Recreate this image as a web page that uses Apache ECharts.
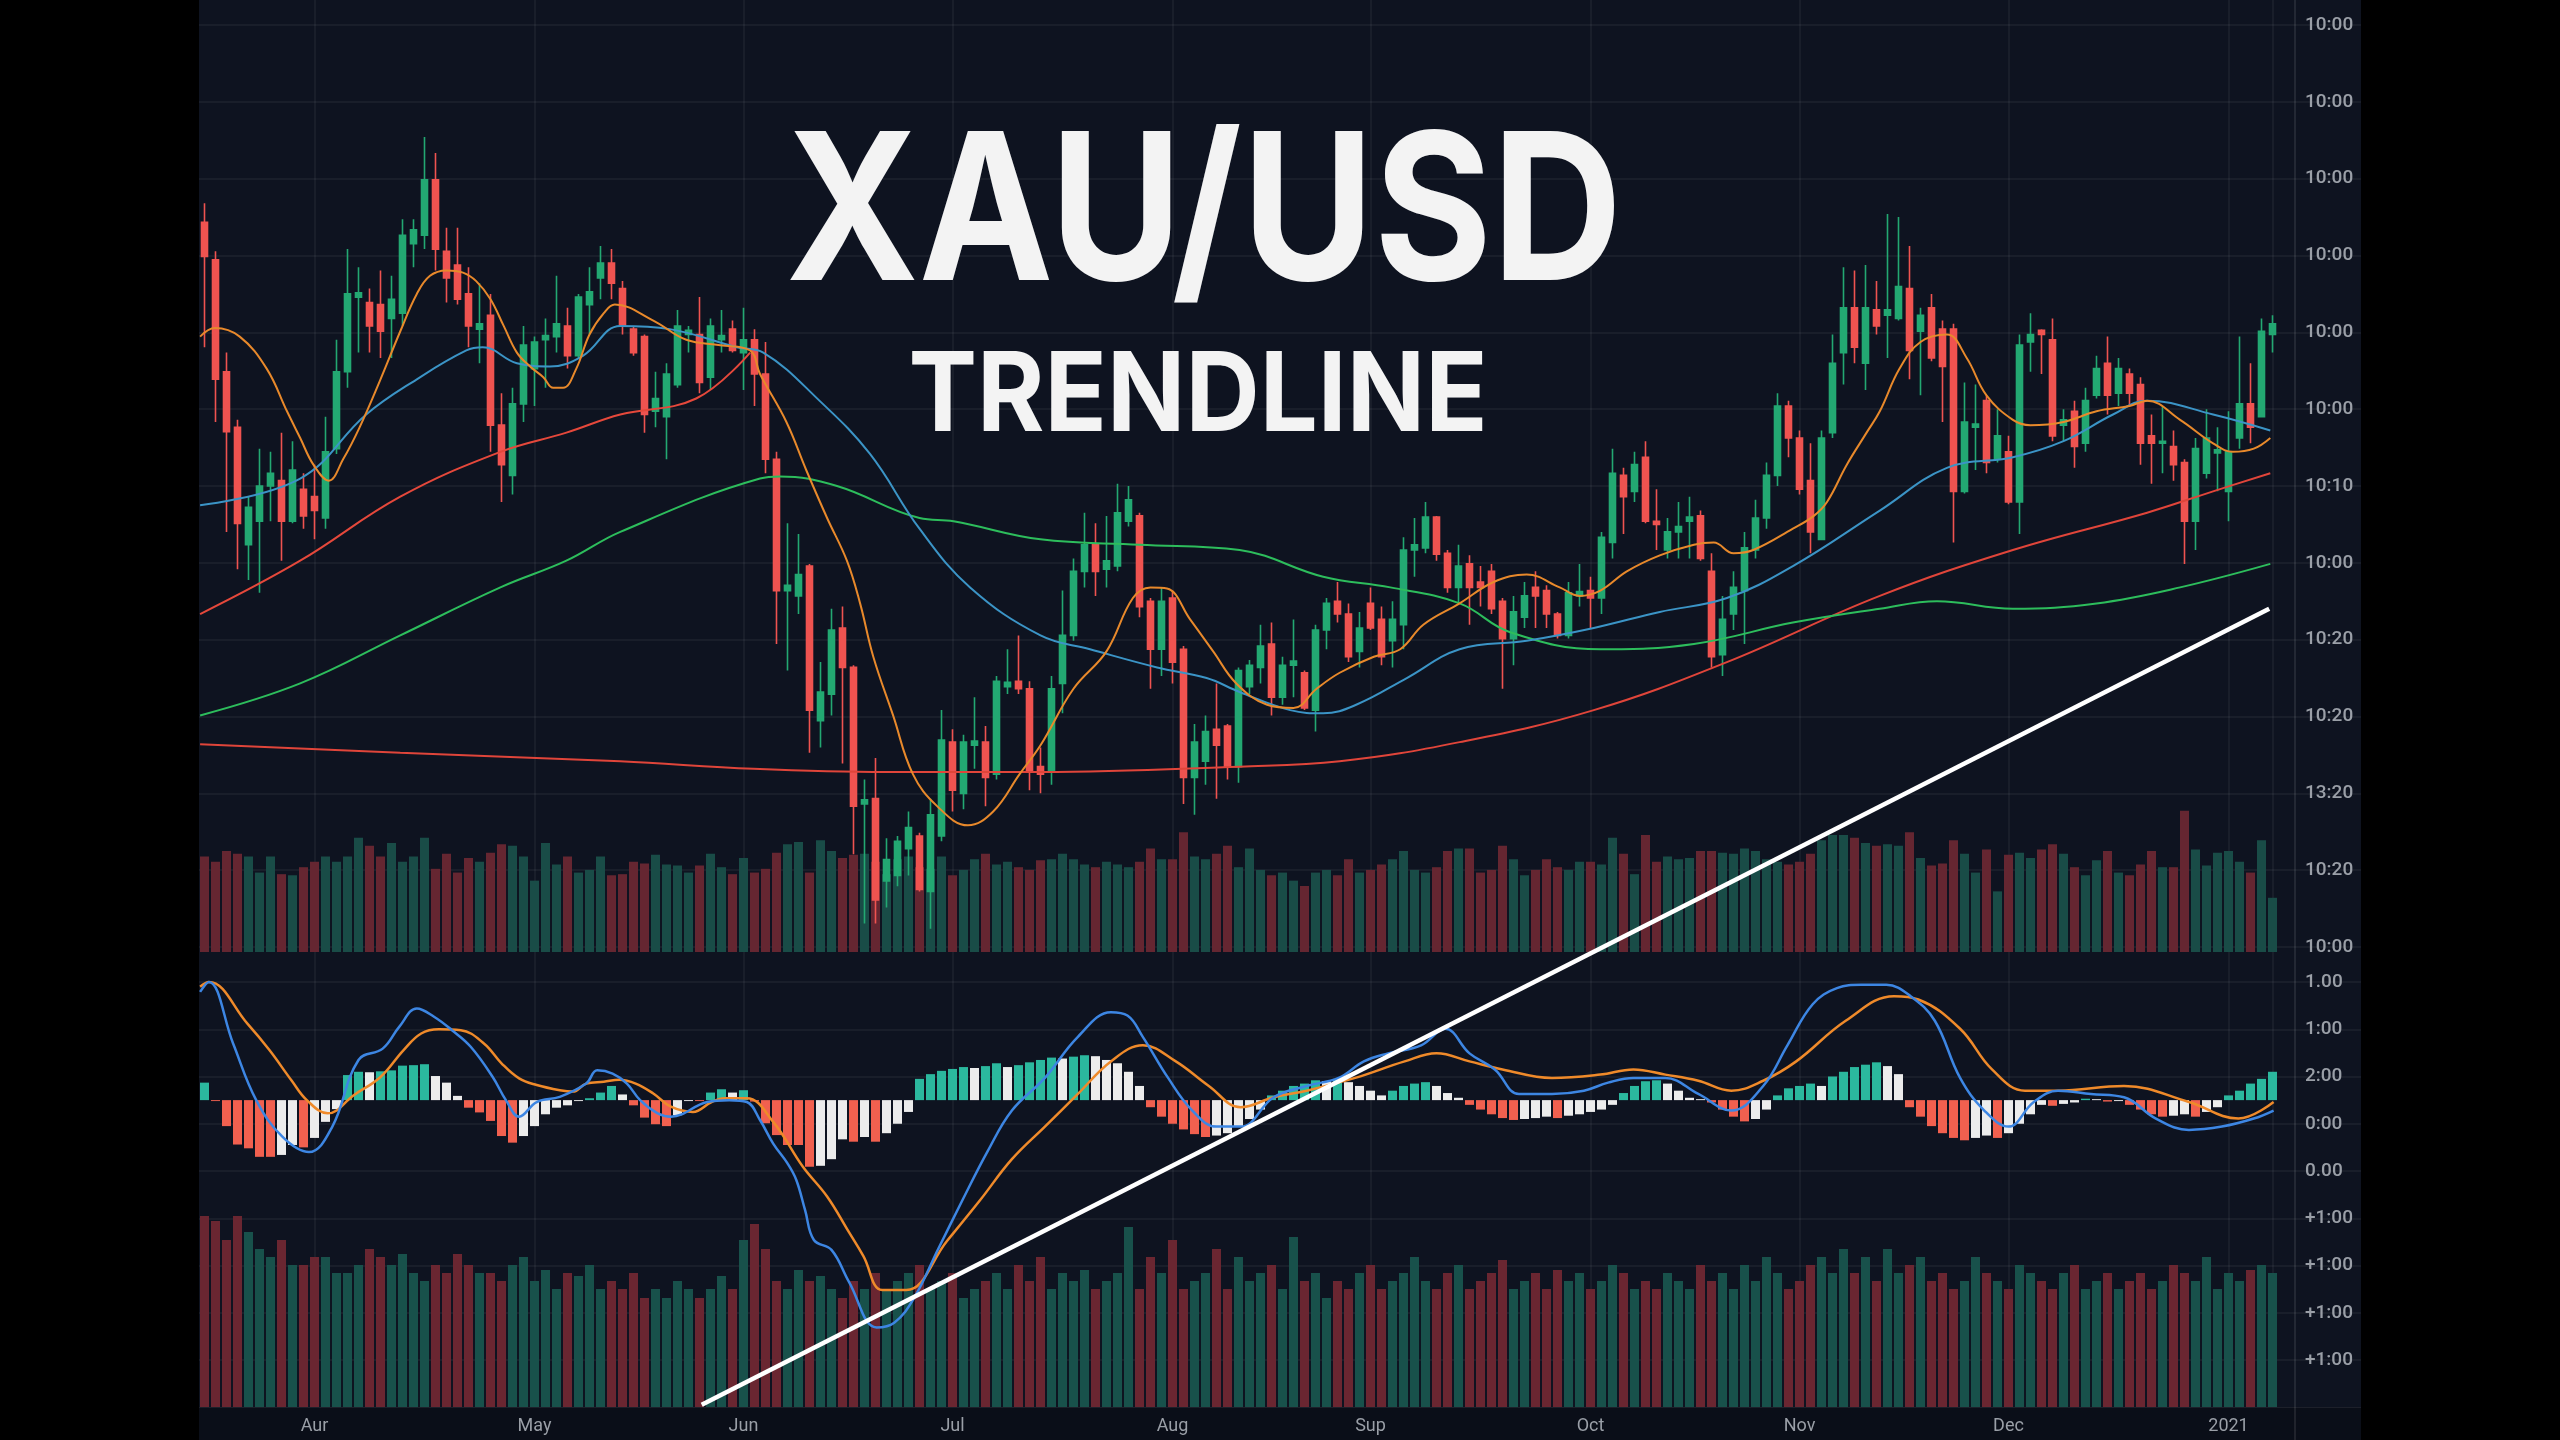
<!DOCTYPE html>
<html><head><meta charset="utf-8">
<script src="https://cdn.jsdelivr.net/npm/echarts@6/dist/echarts.min.js"></script>
<style>html,body{margin:0;padding:0;background:#000;}#c{width:2560px;height:1440px;}</style>
</head><body><div id="c"></div>
<script>
// ---------- tick labels ----------
const priceLabels = ['10:00','10:00','10:00','10:00','10:00','10:00','10:10','10:00','10:20','10:20','13:20','10:20','10:00'];
const lowerLabels = ['1.00','1:00','2:00','0:00','0.00','+1:00','+1:00','+1:00','+1:00'];
const monthLabels = ['Aur','May','Jun','Jul','Aug','Sup','Oct','Nov','Dec','2021'];
const monthIdx = [10,30,49,68,88,106,126,145,164,184];

// ---------- candles ----------
const open = [2119,2084,1979,1927,1817,1839,1872,1877,1839,1869,1862,1842,1907,1979,2049,2044,2042,2029,2034,2099,2107,2159,2092,2079,2052,2019,2032,1929,1882,1949,1982,2009,2012,2022,1994,2042,2067,2081,2057,
2019,2012,1942,1937,1967,2014,2014,1974,2009,2019,1997,2009,1977,1897,1774,1769,1797,1652,1677,1739,1702,1574,1579,1502,1507,1532,1544,1492,1544,1632,1584,1629,1632,1602,1684,1689,1682,1609,
1604,1687,1732,1792,1817,1794,1797,1839,1844,1764,1719,1767,1719,1599,1614,1644,1647,1609,1684,1702,1724,1674,1704,1697,1662,1737,1764,1752,1717,1762,1747,1727,1742,1812,1814,1843,1809,1777,
1799,1782,1792,1764,1729,1749,1777,1774,1752,1732,1769,1774,1767,1819,1882,1867,1899,1839,1812,1829,1839,1844,1792,1714,1752,1774,1812,1842,1882,1947,1917,1877,1822,1922,1997,2039,1987,2037,
2032,2029,2057,2017,2039,2019,2019,1867,1927,1952,1897,1904,1857,2007,2018,2009,1929,1942,1912,1957,1987,1959,1977,1967,1919,1912,1909,1894,1839,1884,1903,1867,1917,1949,1937,2014];
const close = [2087,1972,1923,1837,1852,1872,1884,1839,1887,1844,1849,1904,1979,2052,2053,2022,2017,2047,2107,2112,2159,2094,2067,2047,2022,2024,1929,1892,1949,2004,2007,2013,2024,1994,2049,2054,2081,2062,2022,
1997,1939,1954,1977,2022,2018,1969,2022,2013,1999,2009,1977,1897,1774,1779,1789,1662,1679,1737,1702,1572,1578,1484,1522,1539,1552,1494,1564,1634,1587,1632,1633,1599,1689,1688,1682,1604,1602,
1682,1732,1792,1817,1792,1802,1847,1859,1759,1719,1764,1707,1599,1632,1642,1629,1609,1699,1704,1722,1674,1704,1708,1664,1737,1762,1752,1712,1739,1739,1712,1747,1812,1817,1843,1808,1777,1797,
1777,1777,1757,1729,1754,1769,1769,1752,1732,1772,1773,1767,1824,1884,1862,1892,1839,1836,1829,1834,1843,1804,1712,1747,1777,1814,1842,1882,1947,1917,1869,1829,1917,1987,2039,2002,2039,2022,
2037,2059,1999,2032,1992,1984,1867,1932,1930,1894,1919,1857,2004,2014,2014,1919,1934,1909,1952,1982,1957,1982,1959,1912,1912,1914,1892,1839,1907,1917,1906,1904,1949,1927,2017,2024];
const low = [2002,1932,1829,1794,1784,1772,1839,1802,1837,1832,1822,1832,1902,1964,1997,1997,1992,1992,2022,2077,2094,2074,2044,2042,2002,1987,1904,1857,1864,1932,1947,1964,1997,1982,1992,2014,2047,2047,2014,
1994,1922,1927,1897,1964,1997,1959,1962,1997,1997,1962,1947,1884,1724,1699,1752,1622,1627,1657,1612,1527,1462,1462,1477,1497,1507,1492,1457,1539,1567,1569,1607,1572,1597,1677,1677,1587,1584,
1592,1659,1727,1777,1769,1777,1792,1834,1749,1682,1694,1687,1574,1564,1592,1579,1597,1594,1677,1687,1657,1667,1674,1662,1642,1719,1744,1707,1702,1737,1704,1702,1719,1787,1809,1802,1772,1762,
1742,1759,1752,1682,1704,1739,1739,1739,1729,1729,1759,1739,1752,1804,1827,1857,1837,1812,1804,1804,1804,1802,1702,1694,1737,1724,1804,1832,1872,1899,1864,1809,1822,1917,1967,1987,1962,2014,
1992,2027,1972,1957,1989,1932,1819,1865,1887,1884,1894,1855,1827,1979,1977,1914,1914,1889,1904,1954,1939,1947,1947,1892,1874,1884,1877,1799,1812,1879,1867,1839,1907,1912,1937,1997];
const high = [2137,2092,1997,1934,1862,1907,1904,1922,1914,1884,1892,1937,2009,2094,2077,2057,2074,2069,2122,2122,2199,2184,2114,2114,2077,2062,2052,1959,1964,2022,2012,2029,2069,2039,2052,2077,2097,2094,2064,
2022,2014,1979,1987,2037,2022,2049,2029,2037,2027,2039,2019,2007,1904,1837,1827,1799,1707,1757,1759,1704,1597,1617,1542,1544,1567,1547,1579,1662,1644,1639,1674,1647,1694,1719,1732,1689,1627,
1694,1774,1804,1847,1837,1844,1874,1872,1847,1767,1777,1774,1722,1649,1657,1687,1649,1702,1709,1742,1744,1712,1747,1699,1742,1767,1782,1762,1754,1777,1759,1764,1824,1842,1857,1844,1812,1817,
1807,1797,1799,1767,1769,1782,1792,1779,1754,1782,1799,1787,1829,1907,1889,1904,1914,1869,1842,1857,1862,1849,1809,1769,1792,1829,1859,1894,1959,1952,1924,1912,1924,2014,2077,2074,2079,2064,
2127,2124,2097,2039,2052,2027,2024,1969,1967,1957,1944,1919,2014,2034,2019,2029,1944,1952,1964,1994,2012,1992,1982,1974,1939,1947,1924,1897,1917,1944,1927,1942,2012,1987,2029,2032];

// ---------- volume (main panel) ----------
const vol = [178,168,188,183,178,148,178,145,143,158,168,178,168,178,213,198,178,203,168,178,213,155,183,148,175,168,185,201,198,178,133,203,163,178,148,153,178,143,145,
168,165,181,163,161,148,161,183,158,145,175,148,155,185,201,205,148,208,188,175,181,183,168,145,173,178,158,155,178,143,153,173,183,163,168,158,153,171,
173,183,173,163,158,168,163,158,168,193,173,173,223,178,173,183,198,158,193,153,143,148,133,123,148,153,143,173,148,153,163,173,188,153,148,158,188,193,
193,148,153,198,173,143,153,173,158,153,168,168,163,213,183,145,218,168,178,173,175,188,188,185,183,193,188,173,168,163,168,183,208,218,218,213,203,198,
201,198,223,175,161,165,208,183,148,191,113,181,185,175,191,201,183,158,143,171,188,148,143,163,188,158,158,263,191,161,185,188,168,148,208,101];

// ---------- volume (bottom panel) ----------
const vol2 = [191,186,167,191,175,158,150,167,142,
142,150,150,134,134,142,158,150,142,153,134,126,142,134,153,142,134,
134,126,142,150,126,137,118,134,131,142,118,126,118,134,109,
118,109,126,118,109,118,131,118,167,183,158,126,118,137,126,
131,118,109,126,118,134,118,126,134,142,118,126,134,109,118,
126,134,118,142,126,150,118,134,126,137,118,126,134,180,118,
150,134,167,118,126,134,158,118,150,126,134,142,118,170,126,
134,109,126,118,134,142,118,126,134,150,126,118,134,142,118,
126,134,147,118,126,134,118,137,126,134,118,126,142,134,118,
126,118,134,126,118,142,126,134,118,142,126,150,134,118,126,
142,150,134,158,134,150,126,158,134,142,150,126,134,118,126,
150,134,126,118,142,134,126,118,134,142,118,126,134,118,126,
134,118,126,142,134,126,150,118,134,126,137,142,134];

// ---------- MACD histogram ----------
const hist = [0.37,-0.02,-0.55,-0.94,-1.02,-1.2,-1.2,-1.16,-0.95,-1.0,-0.8,-0.46,-0.19,0.53,0.6,0.59,0.61,0.63,0.73,0.74,0.76,0.51,0.37,0.09,-0.16,-0.26,-0.44,-0.76,-0.9,-0.76,-0.55,-0.3,-0.16,-0.11,-0.02,0.04,0.16,0.3,0.12,-0.11,-0.37,-0.51,-0.55,-0.32,-0.02,-0.02,0.16,0.23,0.16,0.21,-0.03,-0.49,-0.74,-0.95,-0.95,-1.41,-1.39,-1.25,-0.83,-0.88,-0.78,-0.88,-0.7,-0.5,-0.25,
0.45,0.55,0.62,0.66,0.7,0.68,0.72,0.78,0.7,0.74,0.8,0.85,0.9,0.88,0.92,0.95,0.93,0.85,0.78,0.6,0.3,
-0.15,-0.35,-0.5,-0.62,-0.72,-0.78,-0.75,-0.7,-0.55,-0.4,-0.2,
0.1,0.2,0.3,0.35,0.42,0.4,0.45,0.38,0.3,0.2,0.1,0.2,0.3,0.35,0.38,0.3,0.15,0.05,
-0.1,-0.2,-0.3,-0.38,-0.42,-0.4,-0.38,-0.35,-0.38,-0.33,-0.3,-0.25,-0.2,-0.1,
0.15,0.3,0.4,0.42,0.35,0.2,0.05,0.02,-0.05,-0.2,-0.35,-0.45,-0.4,-0.2,
0.1,0.25,0.3,0.35,0.3,0.5,0.6,0.7,0.75,0.8,0.72,0.55,
-0.15,-0.35,-0.55,-0.7,-0.8,-0.85,-0.8,-0.75,-0.8,-0.7,-0.5,-0.3,
-0.1,-0.12,-0.08,-0.05,0.03,0.02,-0.03,-0.02,
-0.1,-0.2,-0.3,-0.35,-0.33,-0.3,-0.35,-0.25,-0.15,
0.1,0.2,0.35,0.45,0.6];

// ---------- MACD / signal lines [bar position, value] ----------
const macdLine = [[-0.4,2.29],[0.4,2.5],[2.6,1.2],[4.7,0.0],[7.1,-0.78],[9.5,-1.1],[11.6,-0.57],[14,0.85],[16.2,1.09],[17.7,1.55],[19.3,1.94],[20.9,1.76],[22.5,1.48],[24.2,1.13],[26.2,0.49],[27.4,0.0],[28.6,-0.35],[30.2,-0.04],[32.3,0.07],[34.7,0.35],[35.7,0.63],[37.1,0.56],[38.4,0.35],[39.6,0.0],[41.2,-0.28],[42.4,-0.35],[45.7,-0.04],[47.7,0.0],[49.3,-0.04],[50.5,-0.42],[51.7,-0.92],[53,-1.34],[53.8,-1.69],[54.6,-2.33],[55.4,-2.96],[57,-3.17],[58.6,-3.85],[61.1,-4.81],[62.7,-4.71],[64.5,-4.19],[66.7,-3.15],[68.9,-2.12],[71.2,-1.08],[73.4,-0.22],[76.4,0.47],[79.4,1.34],[82.4,1.86],[83.9,1.79],[85.3,1.34],[87.6,0.47],[89.8,-0.22],[92,-0.56],[94.2,-0.56],[97.2,0.06],[100.2,0.3],[103.1,0.47],[105.4,0.82],[107.6,0.99],[110.6,1.16],[112.8,1.51],[115,0.99],[117.3,0.65],[119.5,0.13],[122.5,0.13],[125.4,0.2],[127.6,0.37],[129.9,0.47],[132.8,0.47],[135.8,0.13],[138.8,-0.22],[141.7,0.3],[143.9,1.16],[146.2,2.03],[148.4,2.37],[150.6,2.44],[152.9,2.44],[155.1,2.2],[157.3,1.68],[159.6,0.47],[161.8,-0.22],[164,-0.56],[166.3,-0.04],[168.5,0.2],[171.5,0.13],[174.5,0.06],[177.4,-0.39],[180.4,-0.63],[183.4,-0.56],[186.3,-0.39],[188.1,-0.22]];
const signalLine = [[-0.4,2.4],[0.4,2.5],[3.9,1.62],[5.9,1.06],[7.9,0.42],[9.3,0.0],[11.2,-0.28],[13.6,0.11],[16,0.49],[18.1,1.06],[19.7,1.41],[21.3,1.5],[23.3,1.48],[25.4,1.2],[27,0.78],[28.6,0.46],[30.2,0.32],[32.3,0.21],[33.5,0.18],[34.7,0.35],[36.3,0.39],[37.7,0.43],[39.2,0.35],[40.8,0.14],[42.4,-0.14],[44.4,-0.25],[46.1,-0.04],[47.3,0.04],[49.3,0.04],[51.7,-0.46],[54.4,-1.41],[56.6,-2.04],[58.6,-2.8],[59.9,-3.3],[61.6,-4.02],[63.8,-4.02],[67.5,-2.98],[70.5,-2.12],[73.4,-1.25],[76.4,-0.56],[79.4,0.13],[82.4,0.82],[85.3,1.16],[88.3,0.82],[91.3,0.3],[94.2,-0.15],[97.2,0.06],[100.2,0.2],[104.6,0.47],[109.1,0.82],[112,0.99],[115,0.82],[118,0.65],[122.5,0.47],[126.9,0.54],[129.9,0.65],[132.8,0.54],[135.8,0.41],[138.8,0.2],[141.7,0.41],[144.7,0.82],[149.2,1.68],[153.6,2.2],[155.8,2.13],[159.6,1.51],[162.5,0.65],[165.5,0.2],[168.5,0.2],[174.5,0.3],[180.4,-0.04],[184.9,-0.39],[188.1,-0.04]];

// ---------- moving averages [bar position, price] ----------
const maOrange = [[-0.4,2012],[0.95,2020],[3.2,2012],[5.65,1982],[7.5,1942],[8.7,1917],[9.9,1892],[11.3,1877],[12.6,1897],[14.1,1927],[16,1972],[17.8,2017],[19.3,2052],[20.5,2069],[22,2074],[23.5,2072],[24.7,2064],[26,2047],[27.2,2022],[28.4,1997],[29.6,1984],[30.8,1974],[31.7,1964],[32.6,1964],[33.8,1982],[35,2014],[36.3,2034],[37.3,2042],[40.8,2027],[43.8,2009],[46.9,2004],[49.6,1999],[50.5,1977],[52.9,1932],[54.7,1887],[56.6,1842],[58.4,1802],[59.6,1762],[60.8,1712],[62.6,1657],[64.4,1602],[66.6,1572],[69.4,1554],[71.7,1567],[74.1,1602],[76,1629],[79,1682],[82,1717],[84.4,1767],[86,1777],[87.5,1776],[89.6,1747],[91.7,1717],[93.8,1687],[96.6,1667],[99,1664],[101.1,1682],[103.2,1697],[106.3,1712],[108.7,1719],[110.8,1742],[114.1,1762],[117.2,1782],[120.2,1789],[123.2,1777],[125,1769],[126.9,1774],[129.3,1792],[132.3,1807],[135.4,1817],[137.2,1819],[139,1809],[140.8,1812],[144.4,1832],[146.3,1844],[147.5,1857],[149.3,1892],[151.1,1922],[152.3,1942],[154.1,1982],[156,2007],[158.4,2014],[160.2,1992],[162,1957],[164.4,1934],[166,1929],[169,1932],[172,1942],[175,1947],[176.6,1952],[179.6,1934],[182.6,1912],[184.4,1904],[186.3,1907],[187.8,1917]];
const maBlue = [[-0.4,1854],[8.7,1879],[14.7,1939],[19.3,1972],[23.8,1999],[25.3,2002],[28.4,1987],[31.4,1984],[34.4,1994],[37.8,2022],[42.3,2019],[48.4,2002],[50.8,1997],[55.9,1952],[60.5,1902],[65,1832],[69.6,1777],[76,1732],[80.5,1719],[86.6,1702],[91.1,1692],[94.1,1679],[98.7,1662],[101.7,1659],[104.7,1667],[109.3,1692],[114.1,1719],[120.2,1727],[126.3,1739],[132.3,1754],[138.4,1767],[144.4,1797],[152.3,1849],[158.4,1889],[164.4,1899],[169,1914],[173.5,1939],[176.6,1952],[182.6,1939],[187.8,1924]];
const maRed = [[-0.4,1752],[8.7,1802],[17.8,1862],[26.9,1904],[32.9,1922],[37.8,1939],[44.7,1954],[49.6,1997]];
const maGreen = [[-0.4,1657],[8.7,1687],[17.8,1732],[26.9,1777],[32.9,1802],[37.8,1829],[50.5,1879],[52.3,1881],[57.5,1872],[65,1842],[68.1,1839],[76,1822],[85,1817],[94.1,1812],[101.7,1787],[107.8,1777],[114.1,1762],[118.7,1735],[126.9,1719],[135.4,1724],[144.4,1744],[152.3,1757],[157.5,1764],[164.4,1757],[172,1762],[179.6,1777],[187.8,1799]];
const maRedLong = [[-0.4,1630],[17.8,1622],[37.8,1614],[49.9,1607],[62,1604],[76,1604],[94.1,1609],[103.2,1614],[114.1,1632],[126.3,1662],[138.4,1707],[152.3,1769],[164.4,1812],[176.6,1847],[182.6,1867],[187.8,1884]];
const trendLine = [[45.2,1011],[187.7,1757]];

// ---------- build ----------
const N = open.length;
const cats = open.map((_, i) => i);
const UP = '#23a872', DN = '#ef5350';
const VG = '#194c47', VR = '#652631';
const H_T = '#2bb89e', H_R = '#f1604f', H_W = '#ececec';
const candleData = open.map((o, i) => [o, close[i], low[i], high[i]]);
const isUp = i => close[i] >= open[i];
const volData = vol.map((v, i) => ({ value: v, itemStyle: { color: isUp(i) ? VG : VR } }));
const vol2Data = vol2.map((v, i) => ({ value: v, itemStyle: { color: isUp(i) ? '#18514b' : '#6a2631' } }));
const histData = hist.map((h, i) => {
  const p = i > 0 ? hist[i - 1] : 0;
  let c;
  if (h >= 0) c = h >= p ? H_T : H_W; else c = h <= p ? H_R : H_W;
  return { value: h, itemStyle: { color: c } };
});

const L = 199, W = 2079, WFULL = 2162;
const gridColor = 'rgba(255,255,255,0.065)';
const labelStyle = { color: '#9a9fa7', fontSize: 19, fontWeight: 500, fontFamily: 'Roboto, sans-serif' };
const hiddenVal = (g, extra) => Object.assign({ type: 'value', gridIndex: g, show: false, min: 0, max: 1 }, extra || {});

const chart = echarts.init(document.getElementById('c'), null, { renderer: 'canvas' });
chart.setOption({
  animation: false,
  backgroundColor: '#000',
  grid: [
    { left: L, top: 0, width: WFULL, height: 1440, show: true, backgroundColor: '#0e1320', borderWidth: 0 }, // 0 bg
    { left: L - 5.5, top: 0, width: W, height: 1407 },                                                       // 1 vertical lines
    { left: L, top: 25, width: WFULL, height: 922 },                                                         // 2 price labels
    { left: L, top: 982, width: WFULL, height: 378 },                                                        // 3 lower labels
    { left: L, top: 25, width: W, height: 922 },                                                             // 4 price
    { left: L, top: 791, width: W, height: 161 },                                                            // 5 volume
    { left: L, top: 982, width: W, height: 378 },                                                            // 6 macd
    { left: L, top: 1207, width: W, height: 200 },                                                           // 7 bottom volume
    { left: L, top: 1407, width: WFULL, height: 33, show: true, backgroundColor: '#0a0e18', borderWidth: 0 }  // 8 bottom band
  ],
  xAxis: [
    hiddenVal(0),
    { type: 'category', gridIndex: 1, data: cats, axisLine: { show: false }, axisTick: { show: false }, axisLabel: { show: false },
      splitLine: { show: true, interval: (j) => monthIdx.indexOf(j - 1) >= 0, lineStyle: { color: gridColor, width: 1.5 } } },
    hiddenVal(2),
    hiddenVal(3),
    { type: 'category', gridIndex: 4, data: cats, show: false },
    { type: 'value', gridIndex: 4, position: 'top', min: -0.5, max: N - 0.5, show: false },
    { type: 'category', gridIndex: 5, data: cats, show: false },
    { type: 'category', gridIndex: 6, data: cats, show: false },
    { type: 'value', gridIndex: 6, position: 'top', min: -0.5, max: N - 0.5, show: false },
    { type: 'category', gridIndex: 7, data: cats, axisLine: { show: false }, axisTick: { show: false }, splitLine: { show: false },
      axisLabel: { interval: (i) => monthIdx.indexOf(i) >= 0, formatter: (v, i) => { const k = monthIdx.indexOf(i); return k >= 0 ? monthLabels[k] : ''; },
        color: '#9a9fa7', fontSize: 18, margin: 10, fontFamily: '"Liberation Sans Narrow", Roboto, sans-serif' } },
    hiddenVal(8)
  ],
  yAxis: [
    hiddenVal(0),
    hiddenVal(1),
    { type: 'value', gridIndex: 2, position: 'right', min: 0, max: 12, interval: 1,
      axisLine: { show: false }, axisTick: { show: false }, splitLine: { show: true, lineStyle: { color: gridColor, width: 1.5 } },
      axisLabel: Object.assign({ inside: true, align: 'left', margin: 56, showMinLabel: true, showMaxLabel: true, formatter: v => priceLabels[12 - Math.round(v)] }, labelStyle) },
    { type: 'value', gridIndex: 3, position: 'right', min: 0, max: 8, interval: 1,
      axisLine: { show: false }, axisTick: { show: false }, splitLine: { show: true, lineStyle: { color: gridColor, width: 1.5 } },
      axisLabel: Object.assign({ inside: true, align: 'left', margin: 56, showMinLabel: true, showMaxLabel: true, formatter: v => lowerLabels[8 - Math.round(v)] }, labelStyle) },
    { type: 'value', gridIndex: 4, min: 1440, max: 2304, show: false },
    { type: 'value', gridIndex: 5, min: 0, max: 300, show: false },
    { type: 'value', gridIndex: 6, min: -5.5, max: 2.5, show: false },
    { type: 'value', gridIndex: 7, min: 0, max: 200, show: false },
    hiddenVal(8)
  ],
  series: [
    { type: 'bar', name: 'vol', xAxisIndex: 6, yAxisIndex: 5, data: volData, barWidth: 9, z: 1 },
    { type: 'bar', name: 'vol2', xAxisIndex: 9, yAxisIndex: 7, data: vol2Data, barWidth: 9, z: 1 },
    { type: 'bar', name: 'hist', xAxisIndex: 7, yAxisIndex: 6, data: histData, barWidth: 9, z: 2 },
    { type: 'candlestick', name: 'XAUUSD', xAxisIndex: 4, yAxisIndex: 4, data: candleData, barWidth: 7,
      itemStyle: { color: UP, color0: DN, borderColor: UP, borderColor0: DN, borderWidth: 1.6 }, z: 3 },
    { type: 'line', name: 'maRedLong', xAxisIndex: 5, yAxisIndex: 4, data: maRedLong, smooth: 0.4, showSymbol: false, lineStyle: { color: '#e0453a', width: 2 }, z: 4 },
    { type: 'line', name: 'maGreen', xAxisIndex: 5, yAxisIndex: 4, data: maGreen, smooth: 0.4, showSymbol: false, lineStyle: { color: '#2dbd5c', width: 2 }, z: 4 },
    { type: 'line', name: 'maRed', xAxisIndex: 5, yAxisIndex: 4, data: maRed, smooth: 0.4, showSymbol: false, lineStyle: { color: '#e5483b', width: 2 }, z: 4 },
    { type: 'line', name: 'maBlue', xAxisIndex: 5, yAxisIndex: 4, data: maBlue, smooth: 0.4, showSymbol: false, lineStyle: { color: '#3b94c6', width: 2 }, z: 4 },
    { type: 'line', name: 'maOrange', xAxisIndex: 5, yAxisIndex: 4, data: maOrange, smooth: 0.4, showSymbol: false, lineStyle: { color: '#e8892b', width: 2 }, z: 5 },
    { type: 'line', name: 'signal', xAxisIndex: 8, yAxisIndex: 6, data: signalLine, smooth: 0.4, showSymbol: false, clip: false, lineStyle: { color: '#ef8a2a', width: 2.5 }, z: 6 },
    { type: 'line', name: 'macd', xAxisIndex: 8, yAxisIndex: 6, data: macdLine, smooth: 0.4, showSymbol: false, clip: false, lineStyle: { color: '#3d86e3', width: 2.5 }, z: 6 },
    { type: 'line', name: 'trend', xAxisIndex: 5, yAxisIndex: 4, data: trendLine, showSymbol: false, clip: false, lineStyle: { color: '#ffffff', width: 4.5 }, z: 10 }
  ],
  graphic: [
    { type: 'line', shape: { x1: 2295, y1: 0, x2: 2295, y2: 1440 }, style: { stroke: 'rgba(255,255,255,0.12)', lineWidth: 1.5 }, z: 1 },
    { type: 'line', shape: { x1: L, y1: 1407.5, x2: L + WFULL, y2: 1407.5 }, style: { stroke: 'rgba(255,255,255,0.08)', lineWidth: 1 }, z: 1 },
    { type: 'text', z: 20, x: 1204, y: 218, scaleX: 0.88, scaleY: 1,
      style: { text: 'XAU/USD', x: 0, y: 0, textAlign: 'center', textVerticalAlign: 'middle', align: 'center', verticalAlign: 'middle',
      fontSize: 205, fontWeight: 700, fontFamily: 'Inter, "Open Sans", sans-serif', fill: '#f3f3f3' } },
    { type: 'text', z: 20, x: 1198, y: 398, scaleX: 0.935, scaleY: 1,
      style: { text: 'TRENDLINE', x: 0, y: 0, textAlign: 'center', textVerticalAlign: 'middle', align: 'center', verticalAlign: 'middle',
      fontSize: 110, fontWeight: 700, fontFamily: 'Inter, "Open Sans", sans-serif', fill: '#f3f3f3' } }
  ]
});
</script></body></html>
